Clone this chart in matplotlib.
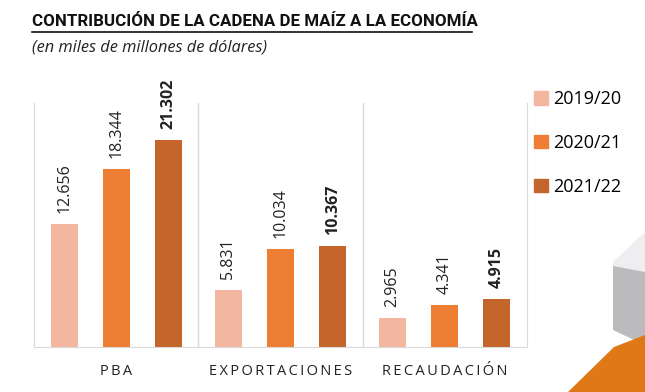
import numpy as np
import matplotlib.pyplot as plt
from matplotlib.patches import Polygon, Patch

categories = ["PBA", "EXPORTACIONES", "RECAUDACIÓN"]
seasons = ["2019/20", "2020/21", "2021/22"]
v_1920 = [12.656, 5.831, 2.965]
v_2021 = [18.344, 10.034, 4.341]
v_2122 = [21.302, 10.367, 4.915]
colors = ["#F3B6A0", "#EE7E33", "#C4652B"]

W, H = 645, 392
fig = plt.figure(figsize=(W / 100, H / 100), dpi=100)
fig.patch.set_facecolor("white")

# background decoration (bottom right)
fig.patches.append(Polygon([(613 / W, 1 - 262 / H), (645 / W, 1 - 232 / H), (645 / W, 1 - 272 / H), (613 / W, 1 - 268 / H)],
                           closed=True, transform=fig.transFigure, facecolor="#EEEEF0", edgecolor="none", zorder=0))
fig.patches.append(Polygon([(613 / W, 1 - 266 / H), (645 / W, 1 - 272 / H), (645 / W, 1 - 345 / H), (613 / W, 1 - 330 / H)],
                           closed=True, transform=fig.transFigure, facecolor="#BBBBBD", edgecolor="none", zorder=0))
fig.patches.append(Polygon([(568 / W, 0), (614 / W, 1 - 347 / H), (645 / W, 1 - 335 / H), (645 / W, 0)],
                           closed=True, transform=fig.transFigure, facecolor="#DF7816", edgecolor="none", zorder=0))

ax = fig.add_axes([34 / W, 1 - 347 / H, (527 - 34) / W, (347 - 103) / H])
ax.patch.set_alpha(0)

x = np.arange(len(categories))
off = 0.317
bw = 0.165
series = [v_1920, v_2021, v_2122]
for i, (vals, c) in enumerate(zip(series, colors)):
    xs = x + (i - 1) * off
    ax.bar(xs, vals, width=bw, color=c, zorder=2, label=seasons[i])
    for xx, v in zip(xs, vals):
        ax.annotate(f"{v:.3f}", (xx, v), xytext=(0, 8), textcoords="offset points",
                    rotation=90, ha="center", va="bottom", fontsize=11.5,
                    fontweight="bold" if i == 2 else "normal", color="#222222",
                    family="Open Sans")

ax.set_xlim(-0.5, 2.5)
ax.set_ylim(0, 25.1)
for xv in [0.5, 1.5]:
    ax.axvline(xv, color="#D9D9D9", lw=1, zorder=1)
ax.spines["top"].set_visible(False)
for s in ["left", "right", "bottom"]:
    ax.spines[s].set_color("#D9D9D9")
ax.set_yticks([])
ax.set_xticks(x)
ax.set_xticklabels(["\u2009".join(c) for c in categories], fontsize=10.5, family="Open Sans", color="#222222")
ax.tick_params(axis="x", length=0, pad=12)

handles = [Patch(color=c) for c in colors]
fig.legend(handles, seasons, loc="upper left", bbox_to_anchor=(518 / W, 1 - 74 / H), frameon=False,
           handlelength=0.75, handleheight=0.75, handletextpad=0.3, labelspacing=1.42,
           prop={"family": "Open Sans", "size": 13})

# title, fitted to the reference width
title = fig.text(32 / W, 1 - 21 / H, "CONTRIBUCIÓN DE LA CADENA DE MAÍZ A LA ECONOMÍA", fontsize=15,
                 fontweight="bold", family="Roboto", va="center", ha="left", color="#111111")
r = fig.canvas.get_renderer()
tw = title.get_window_extent(r).width
title.set_fontsize(15 * 446 / tw)
fig.add_artist(plt.Line2D([32 / W, 472 / W], [1 - 32 / H, 1 - 32 / H], color="#111111", lw=1.2))
fig.text(32 / W, 1 - 48 / H, "(en miles de millones de dólares)", fontsize=11.8, style="italic",
         family="Open Sans", va="center", ha="left", color="#222222")

fig.savefig("out.png", dpi=100)
